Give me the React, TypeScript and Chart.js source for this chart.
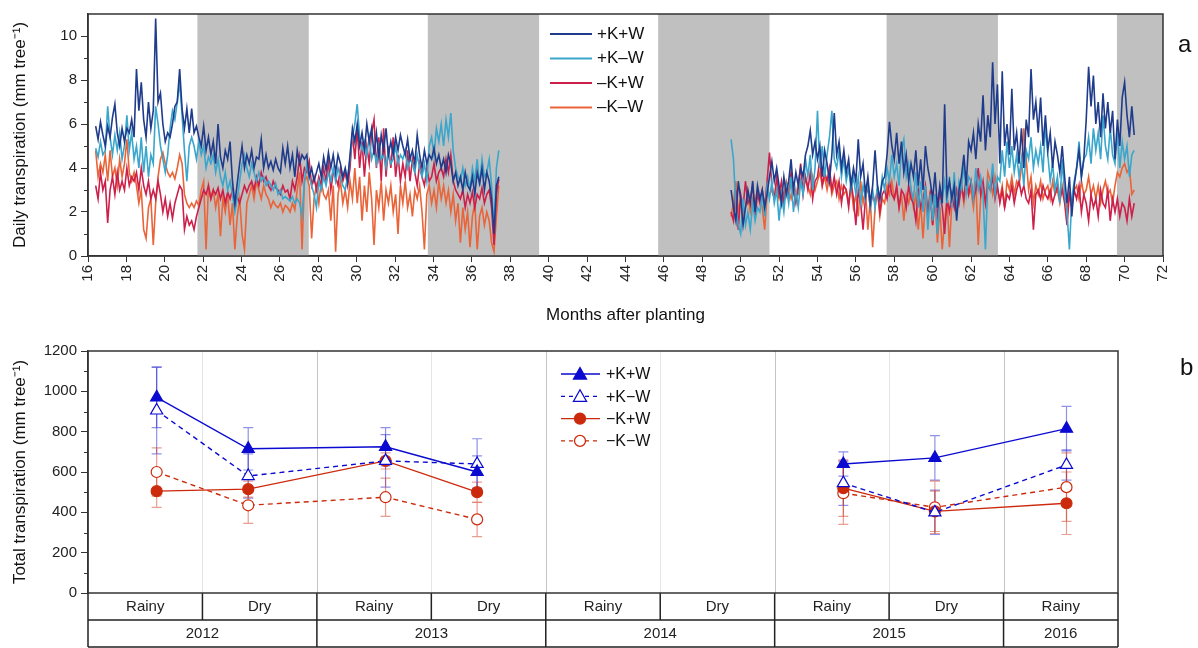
import React, { useEffect, useRef } from 'react';
import { Chart, registerables } from 'chart.js';

Chart.register(...registerables);

// ---------------- Panel a: daily transpiration ----------------
const SEG_A_START = 16.4; // months after planting, first record
const SEG_B_START = 49.5; // months after planting, second record
const STEP = 0.125; // sampling interval (months)

const xTicksTop = [16, 18, 20, 22, 24, 26, 28, 30, 32, 34, 36, 38, 40, 42, 44, 46, 48, 50, 52, 54, 56, 58, 60, 62, 64, 66, 68, 70, 72];
const yTicksTop = [0, 2, 4, 6, 8, 10];
const yMinorTop = [1, 3, 5, 7, 9];
const dryStart = [21.7, 33.7, 45.7, 57.6, 69.6];
const dryEnd = [27.5, 39.5, 51.5, 63.4, 72];
const topSeriesNames = ['+K+W', '+K\u2013W', '\u2013K+W', '\u2013K\u2013W'];

const pKpW_A = [
  5.9, 5.3, 6.1, 5.5, 5.0, 5.9, 5.4, 6.3, 6.9, 5.6, 5.0, 5.8, 5.2, 5.8, 5.6, 6.2,
  5.4, 8.5, 6.6, 7.9, 6.2, 5.4, 7.0, 5.8, 6.6, 10.8, 7.0, 7.4, 6.0, 5.2, 5.6, 5.4,
  6.0, 6.8, 7.0, 8.5, 6.7, 5.8, 6.7, 5.6, 6.7, 5.6, 5.9, 5.4, 5.0, 5.9, 4.8, 5.4,
  4.6, 5.2, 4.2, 6.0, 4.5, 4.0, 4.8, 4.4, 5.2, 3.4, 2.4, 3.3, 4.2, 5.0, 4.0, 4.6,
  4.2, 4.8, 4.0, 4.5, 4.4, 5.3, 4.0, 4.6, 4.0, 4.3, 3.9, 4.4, 4.0, 3.8, 4.9, 4.2,
  5.0, 4.0, 4.6, 3.6, 4.8, 4.2, 4.6, 4.4, 4.6, 3.6, 4.0, 3.4, 3.8, 4.2, 3.6, 4.5,
  3.9, 4.7, 4.0, 4.6, 3.8, 4.6, 4.2, 3.6, 4.0, 3.4, 4.6, 5.8, 5.2, 6.0, 5.0, 5.6,
  4.8, 6.0, 5.2, 5.8, 4.6, 5.6, 4.5, 5.5, 4.8, 5.8, 4.6, 5.2, 4.6, 5.4, 4.8, 5.5,
  5.0, 4.6, 5.3, 4.4, 4.8, 4.2, 5.5, 4.6, 4.0, 4.8, 4.2, 4.6, 4.4, 4.9, 4.2, 4.6,
  4.0, 4.4, 3.8, 4.6, 4.2, 3.4, 3.8, 3.2, 3.6, 3.0, 3.8, 3.2, 3.0, 3.6, 2.8, 3.8,
  3.3, 4.0, 3.0, 3.8, 3.4, 2.6, 1.0, 3.2, 3.6,
];
const pKmW_A = [
  4.9, 4.5, 5.2, 4.6, 4.8, 6.8, 5.4, 4.6, 5.5, 4.8, 5.6, 4.4, 5.0, 6.4, 4.8, 5.6,
  4.4, 5.0, 4.0, 5.4, 3.8, 5.0, 3.6, 4.6, 4.2, 6.8, 6.0, 5.0, 4.4, 3.8, 4.6, 5.8,
  6.6, 6.2, 7.0, 7.9, 6.4, 4.8, 3.4, 5.0, 5.4, 5.0, 4.4, 5.2, 4.6, 5.0, 4.0, 4.5,
  4.2, 4.6, 3.8, 4.4, 3.6, 3.2, 3.8, 3.0, 3.4, 2.8, 2.0, 2.6, 3.4, 4.2, 4.6, 4.0,
  3.6, 4.2, 3.8, 3.4, 3.8, 3.4, 3.6, 3.2, 3.4, 3.2, 3.0, 3.3, 2.8, 3.0, 2.6, 2.7,
  2.6, 2.5, 2.7, 2.4, 2.6, 2.4, 1.8, 3.4, 4.2, 3.6, 3.2, 2.8, 2.2, 3.4, 3.0, 3.6,
  3.2, 3.8, 3.4, 4.0, 3.4, 4.0, 3.6, 3.2, 3.0, 3.6, 4.4, 5.4, 6.0, 6.9, 5.4, 4.8,
  5.2, 4.6, 5.4, 4.4, 4.8, 4.2, 5.0, 4.4, 4.6, 4.0, 4.8, 4.2, 4.4, 5.0, 4.2, 4.6,
  4.4, 4.8, 4.0, 4.4, 4.2, 3.8, 4.6, 4.0, 3.6, 4.2, 3.4, 5.0, 5.4, 4.6, 5.8, 5.2,
  6.0, 5.0, 6.2, 5.4, 6.5, 4.8, 4.0, 3.6, 3.4, 4.0, 3.2, 3.6, 3.0, 4.0, 3.4, 4.4,
  3.2, 4.4, 3.6, 3.8, 4.4, 3.2, 1.2, 4.0, 4.8,
];
const mKpW_A = [
  3.2, 2.6, 3.8, 3.0, 3.4, 1.5, 3.0, 3.6, 2.8, 3.8, 3.0, 3.4, 3.0, 4.0, 3.2, 3.6,
  3.4, 3.8, 3.0, 4.0, 3.2, 2.8, 3.4, 2.6, 3.0, 2.6, 3.4, 2.8, 2.0, 2.6, 1.8, 2.4,
  1.7, 2.4, 2.8, 3.2, 3.0, 1.2, 1.8, 1.4, 1.6, 1.2, 1.8, 2.2, 2.6, 3.0, 2.8, 3.2,
  2.6, 3.0, 2.8, 3.1, 2.6, 3.0, 2.4, 2.9, 2.6, 3.0, 2.2, 2.7, 2.4, 2.8, 3.2, 2.9,
  3.2, 3.4, 3.0, 3.6, 3.2, 3.8, 3.4, 3.6, 3.2, 3.0, 3.4, 3.1, 3.0, 2.8, 3.2, 2.9,
  3.0, 2.6, 3.4, 3.0, 3.6, 4.5, 3.4, 4.0, 3.8, 4.3, 3.2, 3.6, 3.0, 3.6, 3.2, 4.0,
  3.4, 4.3, 3.0, 3.8, 3.6, 3.2, 4.0, 3.4, 3.8, 3.2, 4.0, 5.6, 4.4, 5.8, 4.0, 5.2,
  3.6, 5.0, 4.2, 5.6, 6.2, 4.0, 5.4, 3.4, 5.8, 3.6, 5.0, 4.0, 5.4, 3.6, 4.6, 3.4,
  4.2, 3.6, 4.8, 3.4, 4.4, 3.8, 3.2, 4.2, 3.6, 3.2, 4.0, 3.4, 3.6, 4.2, 3.4, 3.8,
  4.0, 3.6, 4.4, 3.8, 4.6, 3.4, 3.0, 2.8, 2.6, 3.0, 2.2, 2.8, 2.4, 2.9, 2.2, 2.8,
  2.6, 3.1, 2.4, 2.8, 3.0, 2.2, 0.5, 2.8, 3.5,
];
const mKmW_A = [
  4.8, 3.6, 4.2, 3.8, 4.6, 3.4, 4.8, 3.6, 4.0, 3.2, 4.4, 3.6, 4.2, 5.3, 3.8, 3.4,
  3.8, 3.2, 2.4, 3.0, 1.2, 0.8, 2.2, 2.6, 0.5, 2.4, 3.6, 4.4, 4.7, 4.2, 3.8, 3.6,
  3.8, 3.5, 4.0, 4.6, 4.2, 2.8, 2.4, 2.2, 2.4, 2.2, 2.5, 2.3, 3.0, 3.4, 0.3, 3.2,
  2.6, 3.0, 2.2, 2.8, 0.9, 2.6, 2.0, 2.8, 1.4, 2.4, 0.3, 1.8, 2.6, 1.0, 0.3, 2.4,
  2.8, 3.2, 2.6, 3.4, 3.0, 2.6, 3.2, 2.8, 2.6, 2.2, 2.5, 2.3, 2.2, 2.4, 2.0, 2.3,
  2.2, 2.0, 2.4, 2.1, 3.0, 3.8, 0.3, 3.4, 3.6, 3.2, 0.8, 2.6, 3.2, 2.4, 3.4, 2.8,
  2.6, 3.0, 1.6, 3.2, 0.2, 2.8, 3.4, 2.4, 3.0, 2.2, 3.4, 2.6, 4.0, 2.4, 3.6, 1.6,
  3.2, 2.0, 3.8, 2.6, 0.5, 3.0, 2.2, 3.4, 1.6, 3.0, 2.4, 3.2, 2.0, 2.8, 1.0, 3.2,
  2.4, 3.4, 2.2, 2.8, 1.8, 3.0, 2.6, 3.2, 2.0, 0.3, 2.8, 3.2, 2.4, 3.0, 2.2, 3.4,
  2.6, 3.2, 2.4, 3.0, 2.0, 2.8, 1.6, 2.4, 0.6, 2.2, 1.2, 2.0, 0.4, 1.8, 2.4, 0.3,
  1.8, 2.2, 1.4, 2.0, 1.6, 0.6, 0.2, 1.8, 3.2,
];

const pKpW_B = [
  3.0, 2.2, 1.6, 3.4, 2.6, 1.4, 2.2, 3.0, 2.4, 3.4, 2.0, 3.2, 2.6, 3.0, 2.2, 2.8,
  3.6, 4.3, 3.4, 4.0, 3.2, 2.4, 3.6, 2.8, 3.4, 4.4, 3.0, 3.8, 3.2, 4.0, 3.6, 4.6,
  5.0, 5.7, 4.6, 5.2, 4.4, 5.0, 3.6, 4.8, 4.2, 3.4, 4.6, 6.5, 4.6, 5.2, 4.0, 4.8,
  3.8, 4.4, 3.2, 4.0, 3.4, 5.3, 3.6, 4.2, 2.8, 3.6, 2.4, 3.2, 4.8, 3.2, 2.6, 3.4,
  3.6, 4.6, 6.1, 5.0, 4.4, 5.6, 4.2, 5.2, 3.8, 4.6, 3.4, 4.2, 3.6, 4.8, 3.2, 4.4,
  3.0, 5.0, 4.0, 3.4, 2.6, 3.8, 2.2, 3.2, 2.4, 6.9, 2.8, 3.4, 2.6, 3.2, 1.6, 3.0,
  3.6, 4.6, 3.2, 5.2, 4.8, 5.6, 4.4, 6.0, 5.2, 7.3, 4.8, 6.4, 5.4, 8.8, 6.0, 7.8,
  4.2, 8.4, 5.0, 6.0, 4.6, 7.6, 4.8, 5.6, 4.2, 5.8, 4.0, 6.2, 5.4, 8.5, 6.2, 7.0,
  5.6, 7.2, 5.0, 6.4, 4.8, 5.6, 4.0, 5.2, 4.6, 3.8, 5.0, 3.6, 2.4, 3.6, 1.8, 3.2,
  4.0, 4.8, 3.6, 4.4, 6.2, 8.6, 6.8, 8.2, 6.0, 7.0, 5.4, 7.4, 5.8, 7.0, 5.6, 6.6,
  4.4, 6.2, 5.0, 7.2, 7.9, 6.4, 5.4, 6.8, 5.5,
];
const pKmW_B = [
  5.3, 4.4, 2.2, 1.4, 1.0, 2.6, 1.4, 2.0, 1.2, 2.4, 1.6, 2.2, 2.0, 2.8, 1.8, 3.2,
  2.6, 3.4, 2.4, 3.0, 1.6, 2.8, 2.0, 3.2, 2.4, 3.6, 2.0, 3.0, 2.2, 3.4, 2.8, 4.4,
  3.6, 4.6, 3.0, 4.0, 6.6, 4.0, 5.0, 3.6, 4.6, 5.4, 6.6, 4.4, 4.0, 4.8, 3.6, 4.4,
  3.4, 4.0, 3.0, 3.6, 2.8, 3.6, 2.4, 3.2, 2.6, 3.4, 2.2, 3.0, 2.2, 3.2, 2.6, 3.6,
  3.0, 4.0, 3.4, 4.6, 3.6, 4.2, 3.2, 4.8, 5.3, 3.6, 4.2, 3.0, 2.6, 3.8, 2.2, 3.4,
  2.0, 3.2, 1.2, 2.8, 1.6, 2.8, 1.0, 2.4, 2.6, 3.4, 2.4, 3.6, 2.2, 3.8, 2.0, 3.4,
  3.0, 4.2, 2.8, 3.6, 3.4, 2.6, 4.0, 3.0, 3.6, 2.8, 0.3, 3.4, 3.0, 4.2, 2.8, 3.6,
  3.4, 4.8, 3.6, 5.2, 4.0, 5.0, 3.8, 4.6, 3.6, 4.4, 3.2, 4.8, 4.4, 5.4, 4.0, 4.8,
  4.2, 5.0, 3.8, 6.0, 4.6, 3.4, 4.2, 3.0, 3.6, 2.4, 4.4, 2.8, 2.0, 0.3, 2.6, 3.4,
  4.0, 5.2, 3.6, 4.4, 4.6, 5.4, 4.2, 5.8, 4.8, 5.6, 4.4, 6.4, 5.0, 4.4, 5.8, 4.6,
  4.2, 5.6, 4.0, 5.2, 4.4, 5.0, 3.6, 4.6, 4.8,
];
const mKpW_B = [
  2.0, 1.6, 3.0, 1.2, 2.8, 2.2, 3.4, 2.4, 2.6, 3.2, 1.8, 2.8, 2.4, 3.0, 2.2, 3.4,
  4.7, 3.2, 2.6, 3.6, 2.8, 3.4, 2.4, 3.2, 2.6, 3.8, 3.0, 2.4, 3.2, 4.2, 2.8, 3.6,
  3.0, 3.8, 2.6, 3.4, 3.6, 4.4, 3.2, 3.8, 3.4, 4.0, 3.0, 3.6, 2.8, 3.4, 2.4, 3.2,
  3.0, 2.2, 3.4, 2.6, 1.4, 3.0, 2.4, 1.2, 2.6, 3.2, 2.2, 2.8, 2.4, 3.0, 2.0, 2.8,
  3.0, 2.6, 3.4, 2.8, 2.6, 3.2, 2.2, 3.0, 2.8, 2.2, 3.2, 2.6, 2.4, 1.6, 3.0, 2.2,
  2.6, 3.2, 2.0, 2.8, 1.4, 2.6, 1.8, 3.0, 2.2, 1.0, 2.6, 2.0, 2.8, 2.2, 3.0, 2.4,
  3.2, 2.6, 3.6, 2.8, 3.4, 2.6, 3.0, 4.0, 2.8, 3.4, 2.4, 3.2, 3.0, 3.6, 2.6, 3.2,
  2.4, 3.0, 2.2, 2.8, 2.6, 3.2, 2.4, 3.0, 3.4, 2.8, 3.2, 2.6, 2.4, 3.0, 1.2, 2.8,
  3.0, 2.6, 3.2, 2.8, 2.6, 3.0, 2.4, 2.8, 3.2, 2.6, 3.0, 2.4, 1.4, 2.8, 2.2, 3.0,
  2.6, 3.2, 2.0, 2.8, 2.4, 1.6, 2.8, 2.2, 2.6, 1.8, 3.0, 2.4, 2.2, 3.0, 1.6, 2.6,
  2.0, 2.6, 1.8, 2.4, 2.2, 1.6, 2.6, 1.8, 2.4,
];
const mKmW_B = [
  1.8, 2.4, 3.4, 2.0, 2.6, 1.8, 2.2, 2.8, 2.0, 2.6, 2.4, 3.0, 2.6, 2.2, 1.2, 2.8,
  2.8, 3.0, 2.6, 3.2, 2.6, 3.0, 2.8, 3.4, 3.0, 2.6, 3.2, 2.8, 2.8, 3.4, 3.0, 3.6,
  3.2, 2.8, 3.6, 3.0, 3.4, 3.8, 3.2, 3.6, 3.0, 3.6, 2.8, 3.2, 3.4, 2.6, 3.2, 2.8,
  3.0, 2.4, 3.2, 2.2, 2.8, 1.8, 3.4, 2.4, 3.0, 1.2, 2.6, 0.4, 2.2, 3.0, 1.8, 2.6,
  2.4, 3.2, 2.8, 3.4, 2.6, 3.0, 2.2, 2.8, 1.6, 2.8, 2.4, 3.0, 2.2, 2.8, 1.2, 2.4,
  0.8, 2.6, 2.0, 3.0, 1.4, 2.8, 0.6, 2.2, 0.3, 1.6, 2.6, 0.4, 2.4, 3.0, 2.0, 2.6,
  3.2, 2.4, 3.6, 2.8, 3.0, 2.2, 3.4, 0.5, 2.6, 3.2, 2.4, 3.8, 3.4, 2.8, 3.6, 3.0,
  2.6, 3.2, 2.2, 3.4, 3.0, 3.6, 2.8, 3.4, 3.2, 4.0, 5.8, 4.4, 3.0, 3.6, 2.4, 3.2,
  2.8, 3.4, 2.6, 3.0, 3.2, 2.6, 3.4, 2.8, 3.0, 2.4, 3.2, 2.6, 2.2, 2.8, 2.4, 3.0,
  3.2, 2.6, 3.4, 2.8, 3.0, 3.6, 2.8, 3.2, 2.6, 3.2, 2.4, 3.0, 3.4, 2.8, 3.0, 2.4,
  3.2, 3.8, 3.6, 4.0, 4.2, 3.8, 4.0, 2.8, 3.0,
];

// ---------------- Panel b: total transpiration ----------------
const seasonLabels = ['Rainy', 'Dry', 'Rainy', 'Dry', 'Rainy', 'Dry', 'Rainy', 'Dry', 'Rainy'];
const yearLabels = ['2012', '2013', '2014', '2015', '2016'];
const yearSpans = [2, 2, 2, 2, 1];
const seasonPos = [0.6, 1.4, 2.6, 3.4, 4.5, 5.5, 6.6, 7.4, 8.55];
const yTicksBottom = [0, 200, 400, 600, 800, 1000, 1200];
const yMinorBottom = [100, 300, 500, 700, 900, 1100];
const bottomSeriesNames = ['+K+W', '+K\u2212W', '\u2212K+W', '\u2212K\u2212W'];

const totPKpW = [970, 715, 725, 600, null, null, 640, 670, 815];
const totPKmW = [905, 580, 655, 640, null, null, 545, 400, 635];
const totMKpW = [505, 515, 655, 500, null, null, 520, 405, 445];
const totMKmW = [600, 435, 475, 365, null, null, 495, 425, 525];
const errPKpW = [150, 105, 95, 80, null, null, 60, 110, 110];
const errPKmW = [215, 110, 130, 125, null, null, 110, 110, 75];
const errMKpW = [80, 40, 40, 50, null, null, 140, 100, 155];
const errMKmW = [120, 90, 95, 85, null, null, 155, 130, 170];

const FONT = '"Liberation Sans", Arial, sans-serif';
const TOP_COLORS = ['#1f3b8b', '#3aa6cc', '#cc1f4a', '#ea6439'];
const BLUE = '#0a0ad0';
const RED = '#cc2a0c';

function segPoints(a: number[], b: number[]) {
  const pa = a.map((v, i) => ({ x: SEG_A_START + i * STEP, y: v }));
  const pb = b.map((v, i) => ({ x: SEG_B_START + i * STEP, y: v }));
  const gapX = (pa[pa.length - 1].x + pb[0].x) / 2;
  return [...pa, { x: gapX, y: null as any }, ...pb];
}

export default function App() {
  const topRef = useRef<HTMLCanvasElement>(null);
  const botRef = useRef<HTMLCanvasElement>(null);

  useEffect(() => {
    document.body.style.margin = '0';
    const topData = [
      segPoints(pKpW_A, pKpW_B),
      segPoints(pKmW_A, pKmW_B),
      segPoints(mKpW_A, mKpW_B),
      segPoints(mKmW_A, mKmW_B),
    ];

    const bandsPlugin = {
      id: 'bands',
      beforeDatasetsDraw(chart: any) {
        const { ctx, chartArea, scales } = chart;
        ctx.save();
        ctx.fillStyle = '#c0c0c0';
        dryStart.forEach((s, i) => {
          const x0 = scales.x.getPixelForValue(s);
          const x1 = scales.x.getPixelForValue(dryEnd[i]);
          ctx.fillRect(x0, chartArea.top, x1 - x0, chartArea.bottom - chartArea.top);
        });
        ctx.restore();
      },
    };

    const boxPlugin = (minor: number[], label: string, labelDx: number, labelY: number) => ({
      id: 'box' + label,
      afterDraw(chart: any) {
        const { ctx, chartArea, scales } = chart;
        ctx.save();
        ctx.strokeStyle = '#333';
        ctx.lineWidth = 1.5;
        ctx.strokeRect(chartArea.left, chartArea.top, chartArea.right - chartArea.left, chartArea.bottom - chartArea.top);
        ctx.lineWidth = 1;
        ctx.beginPath();
        minor.forEach((v) => {
          const y = Math.round(scales.y.getPixelForValue(v)) + 0.5;
          ctx.moveTo(chartArea.left - 4, y);
          ctx.lineTo(chartArea.left, y);
        });
        ctx.stroke();
        ctx.fillStyle = '#111';
        ctx.font = `24px ${FONT}`;
        ctx.textAlign = 'left';
        ctx.textBaseline = 'middle';
        ctx.fillText(label, chartArea.right + labelDx, labelY);
        ctx.restore();
      },
    });

    const topLegend = {
      id: 'topLegend',
      afterDraw(chart: any) {
        const { ctx } = chart;
        ctx.save();
        ctx.font = `17px ${FONT}`;
        ctx.textBaseline = 'middle';
        ctx.textAlign = 'left';
        topSeriesNames.forEach((n, i) => {
          const y = 34 + i * 24.5;
          ctx.strokeStyle = TOP_COLORS[i];
          ctx.lineWidth = 2;
          ctx.beginPath();
          ctx.moveTo(550, y);
          ctx.lineTo(592, y);
          ctx.stroke();
          ctx.fillStyle = '#111';
          ctx.fillText(n, 597, y);
        });
        ctx.restore();
      },
    };

    const topChart = new Chart(topRef.current!, {
      type: 'line',
      data: {
        datasets: topData.map((d, i) => ({
          label: topSeriesNames[i],
          data: d,
          borderColor: TOP_COLORS[i],
          borderWidth: 1.6,
          pointRadius: 0,
          spanGaps: false,
          tension: 0,
        })),
      },
      options: {
        responsive: false,
        animation: false,
        events: [],
        layout: { padding: { left: 6, right: 35, top: 14, bottom: 4 } },
        plugins: { legend: { display: false }, tooltip: { enabled: false } },
        scales: {
          x: {
            type: 'linear',
            min: 16,
            max: 72,
            afterBuildTicks: (s: any) => {
              s.ticks = xTicksTop.map((v) => ({ value: v }));
            },
            afterFit: (s: any) => {
              s.height = 70;
            },
            ticks: { minRotation: 90, maxRotation: 90, autoSkip: false, color: '#222', font: { family: FONT, size: 15 }, padding: 3, callback: (v: any) => String(v) },
            grid: { drawOnChartArea: false, tickLength: 6, color: '#333' },
            border: { color: '#333', width: 1.5 },
            title: { display: true, text: 'Months after planting', color: '#111', font: { family: FONT, size: 17 }, padding: { top: 6, bottom: 0 } },
          },
          y: {
            min: 0,
            max: 11,
            afterBuildTicks: (s: any) => {
              s.ticks = yTicksTop.map((v) => ({ value: v }));
            },
            afterFit: (s: any) => {
              s.width = 82;
            },
            ticks: { color: '#222', font: { family: FONT, size: 15 }, padding: 4, callback: (v: any) => String(v) },
            grid: { drawOnChartArea: false, tickLength: 7, color: '#333' },
            border: { color: '#333', width: 1.5 },
            title: { display: true, text: 'Daily transpiration (mm tree\u207B\u00B9)', color: '#111', font: { family: FONT, size: 17 }, padding: { top: 4, bottom: 2 } },
          },
        },
      },
      plugins: [bandsPlugin, boxPlugin(yMinorTop, 'a', 15, 45), topLegend],
    } as any);

    // bottom chart
    const series = [
      { name: bottomSeriesNames[0], vals: totPKpW, err: errPKpW, color: BLUE, style: 'triangle', fill: true, dash: [] as number[] },
      { name: bottomSeriesNames[1], vals: totPKmW, err: errPKmW, color: BLUE, style: 'triangle', fill: false, dash: [5, 4] },
      { name: bottomSeriesNames[2], vals: totMKpW, err: errMKpW, color: RED, style: 'circle', fill: true, dash: [] as number[] },
      { name: bottomSeriesNames[3], vals: totMKmW, err: errMKmW, color: RED, style: 'circle', fill: false, dash: [5, 4] },
    ];

    const tablePlugin = {
      id: 'table',
      beforeDatasetsDraw(chart: any) {
        const { ctx, chartArea, scales } = chart;
        ctx.save();
        for (let i = 1; i < seasonLabels.length; i++) {
          const x = Math.round(scales.x.getPixelForValue(i)) + 0.5;
          ctx.strokeStyle = i % 2 === 0 ? '#c4c4c4' : '#e4e4e4';
          ctx.lineWidth = 1;
          ctx.beginPath();
          ctx.moveTo(x, chartArea.top);
          ctx.lineTo(x, chartArea.bottom);
          ctx.stroke();
        }
        series.forEach((s) => {
          ctx.strokeStyle = s.color;
          ctx.globalAlpha = 0.45;
          ctx.lineWidth = 1.2;
          s.vals.forEach((v, j) => {
            const e = s.err[j];
            if (v == null || e == null) return;
            const x = scales.x.getPixelForValue(seasonPos[j]);
            const y0 = scales.y.getPixelForValue(v - e);
            const y1 = scales.y.getPixelForValue(v + e);
            ctx.beginPath();
            ctx.moveTo(x, y0);
            ctx.lineTo(x, y1);
            ctx.moveTo(x - 5, y0);
            ctx.lineTo(x + 5, y0);
            ctx.moveTo(x - 5, y1);
            ctx.lineTo(x + 5, y1);
            ctx.stroke();
          });
        });
        ctx.restore();
      },
      afterDraw(chart: any) {
        const { ctx, chartArea, scales } = chart;
        const r1 = chartArea.bottom + 27;
        const r2 = chartArea.bottom + 54;
        ctx.save();
        ctx.strokeStyle = '#222';
        ctx.lineWidth = 1.5;
        ctx.beginPath();
        ctx.moveTo(chartArea.left, r1);
        ctx.lineTo(chartArea.right, r1);
        ctx.moveTo(chartArea.left, r2);
        ctx.lineTo(chartArea.right, r2);
        ctx.moveTo(chartArea.left, chartArea.bottom);
        ctx.lineTo(chartArea.left, r2);
        ctx.moveTo(chartArea.right, chartArea.bottom);
        ctx.lineTo(chartArea.right, r2);
        for (let i = 1; i < seasonLabels.length; i++) {
          const x = scales.x.getPixelForValue(i);
          ctx.moveTo(x, chartArea.bottom);
          ctx.lineTo(x, r1);
        }
        let acc = 0;
        yearSpans.forEach((sp, k) => {
          acc += sp;
          if (k < yearSpans.length - 1) {
            const x = scales.x.getPixelForValue(acc);
            ctx.moveTo(x, r1);
            ctx.lineTo(x, r2);
          }
        });
        ctx.stroke();
        ctx.fillStyle = '#222';
        ctx.font = `15px ${FONT}`;
        ctx.textAlign = 'center';
        ctx.textBaseline = 'middle';
        seasonLabels.forEach((l, i) => {
          ctx.fillText(l, scales.x.getPixelForValue(i + 0.5), chartArea.bottom + 14);
        });
        acc = 0;
        yearLabels.forEach((l, k) => {
          const c = acc + yearSpans[k] / 2;
          acc += yearSpans[k];
          ctx.fillText(l, scales.x.getPixelForValue(c), r1 + 14);
        });
        ctx.font = `16px ${FONT}`;
        ctx.textAlign = 'left';
        series.forEach((s, i) => {
          const y = 44 + i * 22.3;
          ctx.strokeStyle = s.color;
          ctx.lineWidth = 1.3;
          ctx.setLineDash(s.dash.length ? [4, 4] : []);
          ctx.beginPath();
          ctx.moveTo(561, y);
          ctx.lineTo(600, y);
          ctx.stroke();
          ctx.setLineDash([]);
          ctx.fillStyle = s.fill ? s.color : '#fff';
          ctx.beginPath();
          if (s.style === 'triangle') {
            ctx.moveTo(580, y - 6.5);
            ctx.lineTo(586.5, y + 5);
            ctx.lineTo(573.5, y + 5);
            ctx.closePath();
          } else {
            ctx.arc(580, y, 5.5, 0, Math.PI * 2);
          }
          ctx.fill();
          ctx.stroke();
          ctx.fillStyle = '#111';
          ctx.fillText(s.name, 606, y + 1);
        });
        ctx.restore();
      },
    };

    const botChart = new Chart(botRef.current!, {
      type: 'line',
      data: {
        datasets: series.map((s) => ({
          label: s.name,
          data: s.vals.map((v, j) => ({ x: seasonPos[j], y: v })),
          borderColor: s.color,
          borderWidth: 1.4,
          borderDash: s.dash,
          pointStyle: s.style,
          pointRadius: s.style === 'triangle' ? 7 : 5.5,
          pointBorderWidth: 1.2,
          pointBorderColor: s.color,
          pointBackgroundColor: s.fill ? s.color : '#ffffff',
          spanGaps: false,
          tension: 0,
        })),
      },
      options: {
        responsive: false,
        animation: false,
        events: [],
        layout: { padding: { left: 6, right: 80, top: 21, bottom: 55 } },
        plugins: { legend: { display: false }, tooltip: { enabled: false } },
        scales: {
          x: { type: 'linear', min: 0, max: 9, display: false },
          y: {
            min: 0,
            max: 1200,
            afterBuildTicks: (s: any) => {
              s.ticks = yTicksBottom.map((v) => ({ value: v }));
            },
            afterFit: (s: any) => {
              s.width = 82;
            },
            ticks: { color: '#222', font: { family: FONT, size: 15 }, padding: 4, callback: (v: any) => String(v) },
            grid: { drawOnChartArea: false, tickLength: 7, color: '#333' },
            border: { color: '#333', width: 1.5 },
            title: { display: true, text: 'Total transpiration (mm tree\u207B\u00B9)', color: '#111', font: { family: FONT, size: 17 }, padding: { top: 4, bottom: 2 } },
          },
        },
      },
      plugins: [tablePlugin, boxPlugin(yMinorBottom, 'b', 62, 38)],
    } as any);

    return () => {
      topChart.destroy();
      botChart.destroy();
    };
  }, []);

  return (
    <div style={{ position: 'absolute', left: 0, top: 0, width: 1198, height: 648, background: '#fff' }}>
      <canvas ref={topRef} width={1198} height={330} style={{ position: 'absolute', left: 0, top: 0, width: 1198, height: 330 }} />
      <canvas ref={botRef} width={1198} height={318} style={{ position: 'absolute', left: 0, top: 330, width: 1198, height: 318 }} />
    </div>
  );
}
